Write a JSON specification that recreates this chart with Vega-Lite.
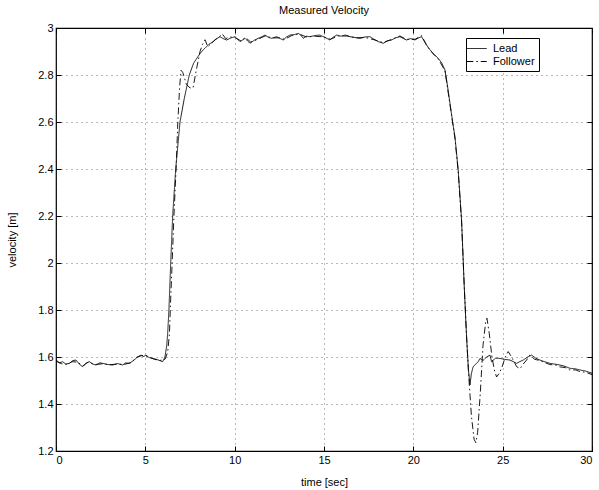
{
  "$schema": "https://vega.github.io/schema/vega-lite/v6.json",
  "autosize": {"type": "none"},
  "padding": {"left": 56, "top": 28, "right": 7, "bottom": 39},
  "width": 536,
  "height": 423,
  "background": "white",
  "title": {"text": "Measured Velocity", "fontSize": 11, "fontWeight": "normal", "font": "Liberation Sans", "offset": 6, "color": "black"},
  "config": {
    "view": {"stroke": "black", "strokeWidth": 1.2},
    "axis": {"labelFont": "Liberation Sans", "titleFont": "Liberation Sans", "labelFontSize": 11, "titleFontSize": 11, "titleFontWeight": "normal", "labelColor": "black", "titleColor": "black", "domain": false, "tickColor": "black", "tickSize": -5, "grid": false}
  },
  "data": {"values": [
    {"t":0,"v":1.587,"s":"Lead"},{"t":0.2,"v":1.575,"s":"Lead"},{"t":0.37,"v":1.58,"s":"Lead"},{"t":0.55,"v":1.57,"s":"Lead"},{"t":0.75,"v":1.573,"s":"Lead"},{"t":0.95,"v":1.585,"s":"Lead"},{"t":1.12,"v":1.587,"s":"Lead"},{"t":1.3,"v":1.57,"s":"Lead"},{"t":1.49,"v":1.559,"s":"Lead"},{"t":1.7,"v":1.575,"s":"Lead"},{"t":1.87,"v":1.58,"s":"Lead"},{"t":2.05,"v":1.57,"s":"Lead"},{"t":2.24,"v":1.566,"s":"Lead"},{"t":2.45,"v":1.575,"s":"Lead"},{"t":2.61,"v":1.573,"s":"Lead"},{"t":2.9,"v":1.568,"s":"Lead"},{"t":3.17,"v":1.566,"s":"Lead"},{"t":3.45,"v":1.572,"s":"Lead"},{"t":3.73,"v":1.566,"s":"Lead"},{"t":3.9,"v":1.575,"s":"Lead"},{"t":4.1,"v":1.573,"s":"Lead"},{"t":4.38,"v":1.587,"s":"Lead"},{"t":4.55,"v":1.6,"s":"Lead"},{"t":4.76,"v":1.608,"s":"Lead"},{"t":4.9,"v":1.602,"s":"Lead"},{"t":5.04,"v":1.608,"s":"Lead"},{"t":5.2,"v":1.598,"s":"Lead"},{"t":5.41,"v":1.594,"s":"Lead"},{"t":5.7,"v":1.588,"s":"Lead"},{"t":5.97,"v":1.58,"s":"Lead"},{"t":6.1,"v":1.6,"s":"Lead"},{"t":6.2,"v":1.65,"s":"Lead"},{"t":6.25,"v":1.7,"s":"Lead"},{"t":6.32,"v":1.8,"s":"Lead"},{"t":6.42,"v":2.0,"s":"Lead"},{"t":6.53,"v":2.2,"s":"Lead"},{"t":6.7,"v":2.4,"s":"Lead"},{"t":6.94,"v":2.6,"s":"Lead"},{"t":7.18,"v":2.7,"s":"Lead"},{"t":7.46,"v":2.8,"s":"Lead"},{"t":7.7,"v":2.85,"s":"Lead"},{"t":7.96,"v":2.88,"s":"Lead"},{"t":8.15,"v":2.9,"s":"Lead"},{"t":8.34,"v":2.914,"s":"Lead"},{"t":8.55,"v":2.93,"s":"Lead"},{"t":8.8,"v":2.942,"s":"Lead"},{"t":9.0,"v":2.955,"s":"Lead"},{"t":9.18,"v":2.963,"s":"Lead"},{"t":9.35,"v":2.955,"s":"Lead"},{"t":9.55,"v":2.949,"s":"Lead"},{"t":9.8,"v":2.958,"s":"Lead"},{"t":10.02,"v":2.963,"s":"Lead"},{"t":10.3,"v":2.942,"s":"Lead"},{"t":10.58,"v":2.956,"s":"Lead"},{"t":10.86,"v":2.935,"s":"Lead"},{"t":11.1,"v":2.948,"s":"Lead"},{"t":11.32,"v":2.956,"s":"Lead"},{"t":11.5,"v":2.962,"s":"Lead"},{"t":11.7,"v":2.97,"s":"Lead"},{"t":11.9,"v":2.96,"s":"Lead"},{"t":12.07,"v":2.956,"s":"Lead"},{"t":12.35,"v":2.963,"s":"Lead"},{"t":12.55,"v":2.955,"s":"Lead"},{"t":12.72,"v":2.949,"s":"Lead"},{"t":12.9,"v":2.962,"s":"Lead"},{"t":13.1,"v":2.97,"s":"Lead"},{"t":13.35,"v":2.972,"s":"Lead"},{"t":13.56,"v":2.977,"s":"Lead"},{"t":13.7,"v":2.97,"s":"Lead"},{"t":13.84,"v":2.956,"s":"Lead"},{"t":14.0,"v":2.965,"s":"Lead"},{"t":14.21,"v":2.963,"s":"Lead"},{"t":14.5,"v":2.968,"s":"Lead"},{"t":14.77,"v":2.97,"s":"Lead"},{"t":15.05,"v":2.96,"s":"Lead"},{"t":15.33,"v":2.949,"s":"Lead"},{"t":15.5,"v":2.96,"s":"Lead"},{"t":15.71,"v":2.97,"s":"Lead"},{"t":15.95,"v":2.965,"s":"Lead"},{"t":16.2,"v":2.97,"s":"Lead"},{"t":16.45,"v":2.963,"s":"Lead"},{"t":16.7,"v":2.96,"s":"Lead"},{"t":17.01,"v":2.956,"s":"Lead"},{"t":17.3,"v":2.962,"s":"Lead"},{"t":17.57,"v":2.963,"s":"Lead"},{"t":17.8,"v":2.952,"s":"Lead"},{"t":18.04,"v":2.942,"s":"Lead"},{"t":18.32,"v":2.935,"s":"Lead"},{"t":18.55,"v":2.945,"s":"Lead"},{"t":18.79,"v":2.949,"s":"Lead"},{"t":19.0,"v":2.958,"s":"Lead"},{"t":19.25,"v":2.963,"s":"Lead"},{"t":19.45,"v":2.955,"s":"Lead"},{"t":19.62,"v":2.949,"s":"Lead"},{"t":19.85,"v":2.955,"s":"Lead"},{"t":20.09,"v":2.949,"s":"Lead"},{"t":20.3,"v":2.958,"s":"Lead"},{"t":20.46,"v":2.963,"s":"Lead"},{"t":20.6,"v":2.945,"s":"Lead"},{"t":20.74,"v":2.928,"s":"Lead"},{"t":20.9,"v":2.91,"s":"Lead"},{"t":21.11,"v":2.892,"s":"Lead"},{"t":21.39,"v":2.871,"s":"Lead"},{"t":21.6,"v":2.85,"s":"Lead"},{"t":21.77,"v":2.821,"s":"Lead"},{"t":21.9,"v":2.76,"s":"Lead"},{"t":22.05,"v":2.68,"s":"Lead"},{"t":22.2,"v":2.6,"s":"Lead"},{"t":22.33,"v":2.537,"s":"Lead"},{"t":22.51,"v":2.396,"s":"Lead"},{"t":22.7,"v":2.183,"s":"Lead"},{"t":22.85,"v":1.899,"s":"Lead"},{"t":22.98,"v":1.686,"s":"Lead"},{"t":23.08,"v":1.55,"s":"Lead"},{"t":23.17,"v":1.481,"s":"Lead"},{"t":23.25,"v":1.53,"s":"Lead"},{"t":23.35,"v":1.559,"s":"Lead"},{"t":23.5,"v":1.57,"s":"Lead"},{"t":23.63,"v":1.58,"s":"Lead"},{"t":23.73,"v":1.594,"s":"Lead"},{"t":23.9,"v":1.585,"s":"Lead"},{"t":24.1,"v":1.6,"s":"Lead"},{"t":24.29,"v":1.608,"s":"Lead"},{"t":24.38,"v":1.58,"s":"Lead"},{"t":24.6,"v":1.595,"s":"Lead"},{"t":24.85,"v":1.594,"s":"Lead"},{"t":25.1,"v":1.59,"s":"Lead"},{"t":25.41,"v":1.587,"s":"Lead"},{"t":25.6,"v":1.58,"s":"Lead"},{"t":25.78,"v":1.573,"s":"Lead"},{"t":25.95,"v":1.58,"s":"Lead"},{"t":26.15,"v":1.587,"s":"Lead"},{"t":26.4,"v":1.6,"s":"Lead"},{"t":26.62,"v":1.608,"s":"Lead"},{"t":26.85,"v":1.595,"s":"Lead"},{"t":27.08,"v":1.587,"s":"Lead"},{"t":27.35,"v":1.58,"s":"Lead"},{"t":27.64,"v":1.573,"s":"Lead"},{"t":27.9,"v":1.57,"s":"Lead"},{"t":28.2,"v":1.566,"s":"Lead"},{"t":28.5,"v":1.56,"s":"Lead"},{"t":28.76,"v":1.552,"s":"Lead"},{"t":29.05,"v":1.55,"s":"Lead"},{"t":29.32,"v":1.545,"s":"Lead"},{"t":29.65,"v":1.54,"s":"Lead"},{"t":30,"v":1.531,"s":"Lead"},

    {"t":0,"v":1.582,"s":"Follower"},{"t":0.3,"v":1.572,"s":"Follower"},{"t":0.6,"v":1.568,"s":"Follower"},{"t":0.9,"v":1.58,"s":"Follower"},{"t":1.2,"v":1.578,"s":"Follower"},{"t":1.5,"v":1.562,"s":"Follower"},{"t":1.8,"v":1.578,"s":"Follower"},{"t":2.2,"v":1.568,"s":"Follower"},{"t":2.6,"v":1.571,"s":"Follower"},{"t":3.0,"v":1.567,"s":"Follower"},{"t":3.4,"v":1.57,"s":"Follower"},{"t":3.8,"v":1.568,"s":"Follower"},{"t":4.2,"v":1.576,"s":"Follower"},{"t":4.5,"v":1.598,"s":"Follower"},{"t":4.8,"v":1.606,"s":"Follower"},{"t":5.1,"v":1.603,"s":"Follower"},{"t":5.45,"v":1.592,"s":"Follower"},{"t":5.8,"v":1.585,"s":"Follower"},{"t":6.1,"v":1.59,"s":"Follower"},{"t":6.25,"v":1.62,"s":"Follower"},{"t":6.35,"v":1.7,"s":"Follower"},{"t":6.42,"v":1.85,"s":"Follower"},{"t":6.5,"v":2.0,"s":"Follower"},{"t":6.6,"v":2.2,"s":"Follower"},{"t":6.72,"v":2.4,"s":"Follower"},{"t":6.82,"v":2.6,"s":"Follower"},{"t":6.92,"v":2.75,"s":"Follower"},{"t":7.0,"v":2.82,"s":"Follower"},{"t":7.1,"v":2.81,"s":"Follower"},{"t":7.3,"v":2.76,"s":"Follower"},{"t":7.5,"v":2.745,"s":"Follower"},{"t":7.67,"v":2.745,"s":"Follower"},{"t":7.85,"v":2.82,"s":"Follower"},{"t":8.06,"v":2.9,"s":"Follower"},{"t":8.2,"v":2.93,"s":"Follower"},{"t":8.34,"v":2.95,"s":"Follower"},{"t":8.5,"v":2.92,"s":"Follower"},{"t":8.7,"v":2.935,"s":"Follower"},{"t":8.9,"v":2.95,"s":"Follower"},{"t":9.1,"v":2.96,"s":"Follower"},{"t":9.3,"v":2.975,"s":"Follower"},{"t":9.5,"v":2.955,"s":"Follower"},{"t":9.75,"v":2.962,"s":"Follower"},{"t":10.05,"v":2.958,"s":"Follower"},{"t":10.35,"v":2.945,"s":"Follower"},{"t":10.6,"v":2.96,"s":"Follower"},{"t":10.9,"v":2.94,"s":"Follower"},{"t":11.3,"v":2.952,"s":"Follower"},{"t":11.7,"v":2.966,"s":"Follower"},{"t":12.1,"v":2.958,"s":"Follower"},{"t":12.5,"v":2.958,"s":"Follower"},{"t":12.8,"v":2.952,"s":"Follower"},{"t":13.2,"v":2.968,"s":"Follower"},{"t":13.6,"v":2.975,"s":"Follower"},{"t":14.0,"v":2.962,"s":"Follower"},{"t":14.5,"v":2.965,"s":"Follower"},{"t":15.0,"v":2.962,"s":"Follower"},{"t":15.35,"v":2.952,"s":"Follower"},{"t":15.8,"v":2.966,"s":"Follower"},{"t":16.3,"v":2.966,"s":"Follower"},{"t":16.8,"v":2.958,"s":"Follower"},{"t":17.3,"v":2.96,"s":"Follower"},{"t":17.8,"v":2.95,"s":"Follower"},{"t":18.3,"v":2.938,"s":"Follower"},{"t":18.8,"v":2.952,"s":"Follower"},{"t":19.25,"v":2.966,"s":"Follower"},{"t":19.6,"v":2.952,"s":"Follower"},{"t":20.1,"v":2.952,"s":"Follower"},{"t":20.45,"v":2.968,"s":"Follower"},{"t":20.6,"v":2.948,"s":"Follower"},{"t":20.75,"v":2.925,"s":"Follower"},{"t":21.11,"v":2.89,"s":"Follower"},{"t":21.4,"v":2.868,"s":"Follower"},{"t":21.77,"v":2.818,"s":"Follower"},{"t":22.05,"v":2.675,"s":"Follower"},{"t":22.33,"v":2.53,"s":"Follower"},{"t":22.51,"v":2.39,"s":"Follower"},{"t":22.7,"v":2.175,"s":"Follower"},{"t":22.85,"v":1.9,"s":"Follower"},{"t":22.98,"v":1.686,"s":"Follower"},{"t":23.1,"v":1.52,"s":"Follower"},{"t":23.25,"v":1.35,"s":"Follower"},{"t":23.4,"v":1.25,"s":"Follower"},{"t":23.5,"v":1.235,"s":"Follower"},{"t":23.6,"v":1.28,"s":"Follower"},{"t":23.75,"v":1.45,"s":"Follower"},{"t":23.9,"v":1.65,"s":"Follower"},{"t":24.05,"v":1.75,"s":"Follower"},{"t":24.12,"v":1.765,"s":"Follower"},{"t":24.25,"v":1.7,"s":"Follower"},{"t":24.4,"v":1.6,"s":"Follower"},{"t":24.55,"v":1.54,"s":"Follower"},{"t":24.66,"v":1.515,"s":"Follower"},{"t":24.8,"v":1.53,"s":"Follower"},{"t":24.94,"v":1.552,"s":"Follower"},{"t":25.15,"v":1.6,"s":"Follower"},{"t":25.31,"v":1.623,"s":"Follower"},{"t":25.5,"v":1.6,"s":"Follower"},{"t":25.78,"v":1.559,"s":"Follower"},{"t":25.97,"v":1.55,"s":"Follower"},{"t":26.15,"v":1.57,"s":"Follower"},{"t":26.34,"v":1.587,"s":"Follower"},{"t":26.52,"v":1.608,"s":"Follower"},{"t":26.8,"v":1.59,"s":"Follower"},{"t":27.08,"v":1.585,"s":"Follower"},{"t":27.4,"v":1.575,"s":"Follower"},{"t":27.64,"v":1.568,"s":"Follower"},{"t":28.0,"v":1.565,"s":"Follower"},{"t":28.2,"v":1.558,"s":"Follower"},{"t":28.5,"v":1.555,"s":"Follower"},{"t":28.76,"v":1.545,"s":"Follower"},{"t":29.1,"v":1.545,"s":"Follower"},{"t":29.32,"v":1.538,"s":"Follower"},{"t":29.65,"v":1.535,"s":"Follower"},{"t":30,"v":1.525,"s":"Follower"}
  ]},
  "resolve": {"axis": {"x": "independent", "y": "independent"}},
  "layer": [
    {
      "mark": {"type": "line", "color": "black", "strokeWidth": 0.9},
      "encoding": {
        "x": {"field": "t", "type": "quantitative", "scale": {"domain": [0, 30], "nice": false},
              "axis": {"values": [0,5,10,15,20,25,30], "title": "time [sec]", "grid": true, "gridColor": "#000", "gridDash": [1,4], "gridOpacity": 0.55, "labelPadding": 8, "titlePadding": 11}},
        "y": {"field": "v", "type": "quantitative", "scale": {"domain": [1.2, 3], "nice": false, "zero": false},
              "axis": {"values": [1.2,1.4,1.6,1.8,2,2.2,2.4,2.6,2.8,3], "format": "~g", "title": "velocity [m]", "grid": true, "gridColor": "#000", "gridDash": [1,4], "gridOpacity": 0.55, "labelPadding": 8, "titlePadding": 20}},
        "strokeDash": {"field": "s", "type": "nominal",
          "scale": {"domain": ["Lead", "Follower"], "range": [[1, 0], [7, 3, 1.5, 3]]},
          "legend": {"title": null, "orient": "none", "legendX": 410, "legendY": 10, "strokeColor": "black", "fillColor": "white", "padding": 4, "symbolType": "M-1.7,0H1.7", "symbolSize": 144, "symbolStrokeWidth": 1, "symbolStrokeColor": "black", "labelFont": "Liberation Sans", "labelFontSize": 11, "labelColor": "black", "rowPadding": 1, "labelOffset": 10}}
      }
    },
    {
      "mark": {"type": "line", "strokeOpacity": 0},
      "encoding": {
        "x": {"field": "t", "type": "quantitative", "axis": {"orient": "top", "values": [0,5,10,15,20,25,30], "labels": false, "title": null}},
        "y": {"field": "v", "type": "quantitative", "axis": {"orient": "right", "values": [1.2,1.4,1.6,1.8,2,2.2,2.4,2.6,2.8,3], "labels": false, "title": null}},
        "detail": {"field": "s"}
      }
    }
  ]
}
